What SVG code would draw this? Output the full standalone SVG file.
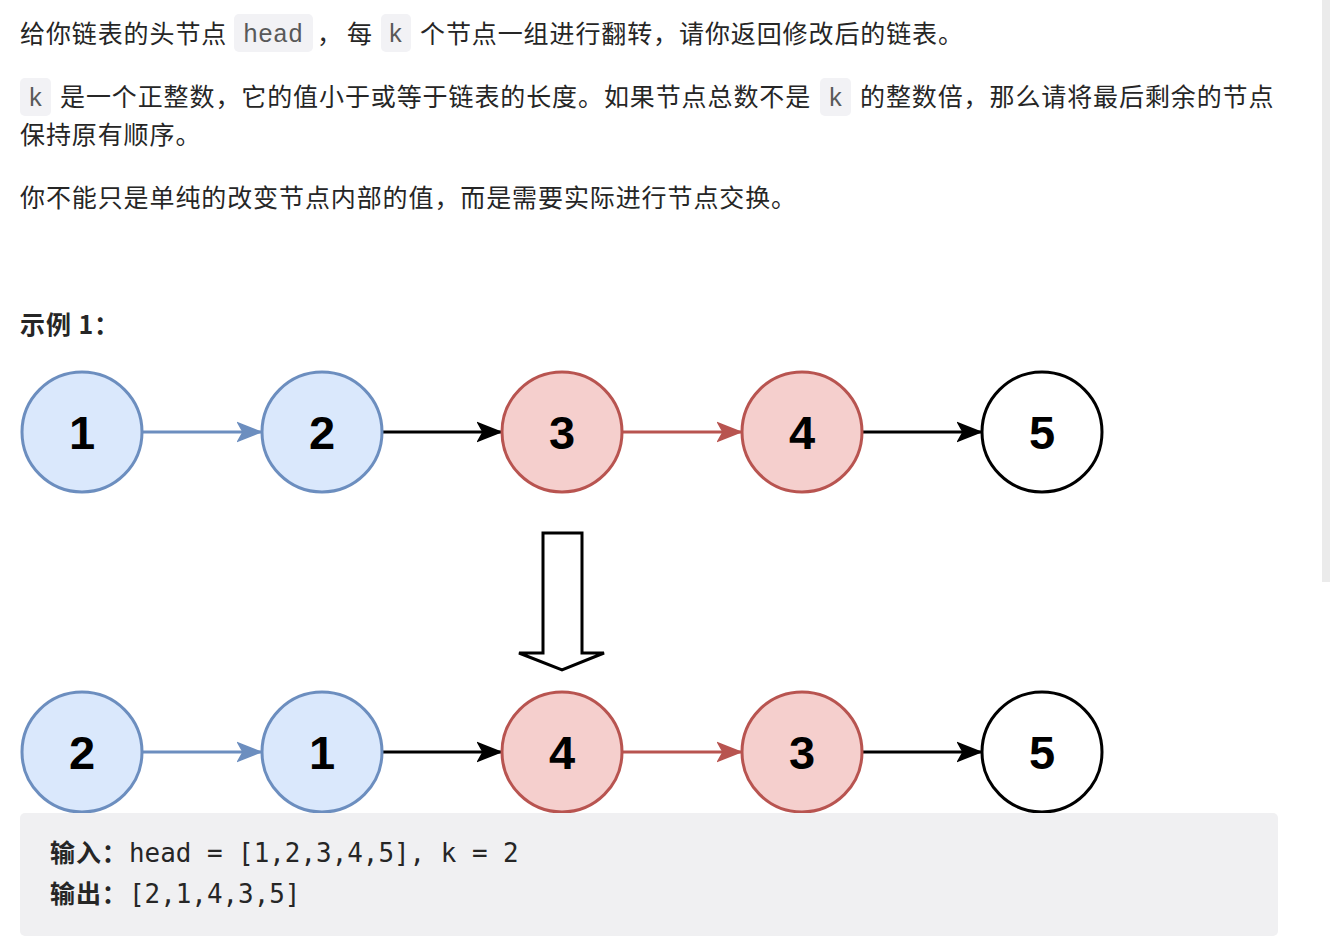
<svg xmlns="http://www.w3.org/2000/svg" width="1330" height="952" viewBox="0 0 1330 952">
<style>
.t{font-family:"Noto Sans CJK SC","Noto Sans",sans-serif;font-size:25px;letter-spacing:0.9px;fill:#262626}
.b{font-weight:bold}
.ic{font-family:"Liberation Mono",monospace;font-size:25px;fill:#595959}
.icb{fill:#f2f2f5}
.mono{font-family:"DejaVu Sans Mono",monospace;font-size:25.9px;fill:#262626}
.blue{fill:#dae8fc;stroke:#6c8ebf;stroke-width:3}
.red{fill:#f5cfcd;stroke:#b85450;stroke-width:3}
.wht{fill:#ffffff;stroke:#000000;stroke-width:3}
.num{font-family:"Liberation Sans",Arial,sans-serif;font-weight:bold;font-size:47px;fill:#000;text-anchor:middle}
.lb{stroke:#6c8ebf;stroke-width:3;fill:none}
.lk{stroke:#000;stroke-width:3;fill:none}
.lr{stroke:#b85450;stroke-width:3;fill:none}
</style>
<defs>
<marker id="ab" markerUnits="userSpaceOnUse" markerWidth="26" markerHeight="22" viewBox="0 0 26 22" refX="24" refY="11" orient="auto"><path d="M1,2 L24,11 L1,20 L6,11 Z" fill="#6c8ebf" stroke="#6c8ebf" stroke-width="1.5"/></marker>
<marker id="ak" markerUnits="userSpaceOnUse" markerWidth="26" markerHeight="22" viewBox="0 0 26 22" refX="24" refY="11" orient="auto"><path d="M1,2 L24,11 L1,20 L6,11 Z" fill="#000" stroke="#000" stroke-width="1.5"/></marker>
<marker id="ar" markerUnits="userSpaceOnUse" markerWidth="26" markerHeight="22" viewBox="0 0 26 22" refX="24" refY="11" orient="auto"><path d="M1,2 L24,11 L1,20 L6,11 Z" fill="#b85450" stroke="#b85450" stroke-width="1.5"/></marker>
</defs>
<rect width="1330" height="952" fill="#fff"/>
<rect x="1322" y="0" width="8" height="582" fill="#ebebeb"/>

<g id="text">
<text class="t" x="20" y="43">给你链表的头节点</text>
<rect class="icb" x="234" y="14" width="79" height="38" rx="5"/>
<text class="ic" x="243" y="42">head</text>
<text class="t" x="317" y="43">，</text>
<text class="t" x="347" y="43">每</text>
<rect class="icb" x="381" y="14" width="30" height="38" rx="5"/>
<text class="ic" x="388" y="42">k</text>
<text class="t" x="420" y="43">个节点一组进行翻转，请你返回修改后的链表。</text>

<rect class="icb" x="20" y="78" width="31" height="38" rx="5"/>
<text class="ic" x="28" y="106">k</text>
<text class="t" x="60" y="106">是一个正整数，它的值小于或等于链表的长度。如果节点总数不是</text>
<rect class="icb" x="820" y="78" width="31" height="38" rx="5"/>
<text class="ic" x="828" y="106">k</text>
<text class="t" x="860" y="106">的整数倍，那么请将最后剩余的节点</text>
<text class="t" x="20" y="144">保持原有顺序。</text>
<text class="t" x="20" y="207">你不能只是单纯的改变节点内部的值，而是需要实际进行节点交换。</text>
<text class="t b" x="20" y="334">示例 1：</text>
</g>

<g id="connectors">
<line class="lb" x1="143" y1="432" x2="261" y2="432" marker-end="url(#ab)"/>
<line class="lk" x1="383" y1="432" x2="501" y2="432" marker-end="url(#ak)"/>
<line class="lr" x1="623" y1="432" x2="741" y2="432" marker-end="url(#ar)"/>
<line class="lk" x1="863" y1="432" x2="981" y2="432" marker-end="url(#ak)"/>
<line class="lb" x1="143" y1="752" x2="261" y2="752" marker-end="url(#ab)"/>
<line class="lk" x1="383" y1="752" x2="501" y2="752" marker-end="url(#ak)"/>
<line class="lr" x1="623" y1="752" x2="741" y2="752" marker-end="url(#ar)"/>
<line class="lk" x1="863" y1="752" x2="981" y2="752" marker-end="url(#ak)"/>
</g>

<g id="n1"><circle class="blue" cx="82" cy="432" r="60"/><text class="num" x="82" y="449">1</text></g>
<g id="n2"><circle class="blue" cx="322" cy="432" r="60"/><text class="num" x="322" y="449">2</text></g>
<g id="n3"><circle class="red" cx="562" cy="432" r="60"/><text class="num" x="562" y="449">3</text></g>
<g id="n4"><circle class="red" cx="802" cy="432" r="60"/><text class="num" x="802" y="449">4</text></g>
<g id="n5"><circle class="wht" cx="1042" cy="432" r="60"/><text class="num" x="1042" y="449">5</text></g>

<g id="bigarrow"><path d="M543,533 L582,533 L582,653 L604,653 L562,670 L519,653 L543,653 Z" fill="#fff" stroke="#000" stroke-width="3" stroke-linejoin="miter"/></g>

<g id="m2"><circle class="blue" cx="82" cy="752" r="60"/><text class="num" x="82" y="769">2</text></g>
<g id="m1"><circle class="blue" cx="322" cy="752" r="60"/><text class="num" x="322" y="769">1</text></g>
<g id="m4"><circle class="red" cx="562" cy="752" r="60"/><text class="num" x="562" y="769">4</text></g>
<g id="m3"><circle class="red" cx="802" cy="752" r="60"/><text class="num" x="802" y="769">3</text></g>
<g id="m5"><circle class="wht" cx="1042" cy="752" r="60"/><text class="num" x="1042" y="769">5</text></g>

<g id="codebox">
<rect x="20" y="813" width="1258" height="123" rx="5" fill="#f0f0f2"/>
<text class="t b" x="50" y="862">输入：</text>
<text class="mono" x="129" y="862">head = [1,2,3,4,5], k = 2</text>
<text class="t b" x="50" y="903">输出：</text>
<text class="mono" x="129" y="903">[2,1,4,3,5]</text>
</g>
</svg>
